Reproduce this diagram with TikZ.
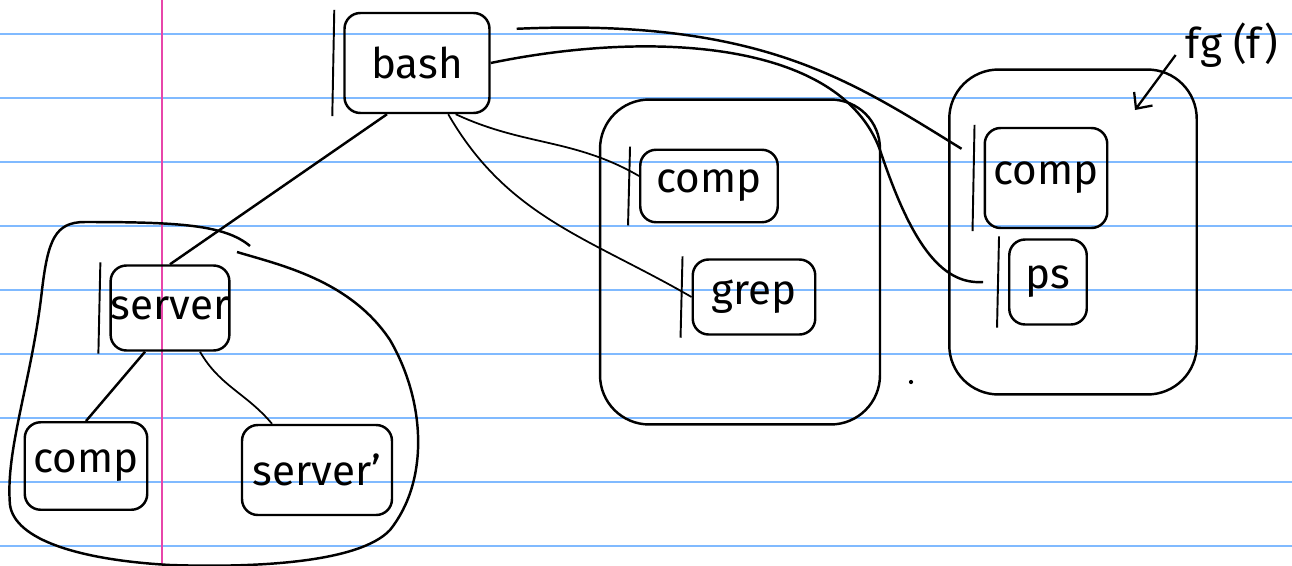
\documentclass[tikz,border=0pt]{standalone}
\usepackage{fontspec}
\setmainfont{Fira Sans}
\usetikzlibrary{arrows.meta, positioning}
\definecolor{ruleblue}{RGB}{128,186,255}
\definecolor{marginpink}{RGB}{232,70,170}

\begin{document}
\begin{tikzpicture}[x=0.02cm, y=-0.02cm,
  proc/.style={rectangle,draw,line width=1.4pt,rounded corners=9pt,align=center,inner sep=0pt,font=\fontsize{24}{26}\selectfont},
  grp/.style={rectangle,draw,line width=1.4pt,rounded corners=28pt},
  tick/.style={line width=1.1pt},
  wire/.style={line width=1.4pt},
  lwire/.style={line width=1pt},
  arr/.style={-{Straight Barb[length=7pt,width=13pt]},line width=1.3pt}
]
  \useasboundingbox[fill=white] (0,0) rectangle (1292,565);
  \foreach \y in {34,98,...,546} \draw[ruleblue,line width=1.1pt] (0,\y) -- (1292,\y);
  \draw[marginpink,line width=1.1pt] (162,0) -- (162,565);

  \node[grp,minimum width=5.6cm,minimum height=6.5cm] (mid) at (740,262) {};
  \node[grp,minimum width=4.95cm,minimum height=6.5cm] (right) at (1073,232) {};
  \draw[wire] (250,246) .. controls (225,225) and (180,222) .. (85,222)
    .. controls (55,222) and (48,240) .. (42,290)
    .. controls (32,380) and (5,450) .. (10,505)
    .. controls (15,540) and (80,560) .. (170,565)
    .. controls (260,568) and (360,562) .. (390,530)
    .. controls (430,480) and (425,400) .. (390,340)
    .. controls (350,280) and (280,265) .. (237,252);

  \node[proc,minimum width=2.9cm,minimum height=2cm] (bash) at (417,63) {bash};
  \node[proc,minimum width=2.3cm,minimum height=1.7cm] (server) at (170,308) {server};
  \node[proc,minimum width=2.45cm,minimum height=1.75cm] (comp1) at (86,466) {comp};
  \node[proc,minimum width=3cm,minimum height=1.8cm] (server2) at (317,470) {server'};
  \node[proc,minimum width=2.75cm,minimum height=1.45cm] (comp2) at (709,186) {comp};
  \node[proc,minimum width=2.45cm,minimum height=1.5cm] (grep) at (754,297) {grep};
  \node[proc,minimum width=2.45cm,minimum height=2cm] (comp3) at (1046,178) {comp};
  \node[proc,minimum width=1.55cm,minimum height=1.7cm] (ps) at (1048,282) {ps};
  \node[font=\fontsize{24}{26}\selectfont,inner sep=0pt] (fg) at (1232,45) {fg (f)};
  \coordinate (fgtip) at (1135,110);

  \foreach \n in {bash,server,comp2,grep,comp3,ps}
    \draw[tick] ([shift={(-9,-2)}]\n.north west) -- ([shift={(-11,2)}]\n.south west);

  \draw[wire] ([xshift=-0.6cm]bash.south) -- (server.north);
  \draw[wire] ([xshift=-0.5cm]server.south) -- (comp1.north);
  \draw[lwire] ([xshift=0.6cm]server.south) to[out=-60,in=130] ([xshift=-0.9cm]server2.north);
  \draw[lwire] ([xshift=-0.7cm]bash.south east) to[out=-25,in=150] ([yshift=0.2cm]comp2.west);
  \draw[lwire] ([xshift=-0.85cm]bash.south east) to[out=-60,in=150] (grep.west);
  \draw[wire] ([shift={(26,17)}]bash.north east) .. controls (760,18) and (850,80) .. ([shift={(-22,22)}]comp3.north west);
  \draw[wire] (bash.east) .. controls (650,30) and (840,40) .. (880,150)
    .. controls (910,240) and (940,285) .. ([xshift=-0.5cm]ps.west);
  \draw[arr] ([shift={(-10,10)}]fg.west) -- (fgtip);
  \fill (911,382) circle (1.2pt);
\end{tikzpicture}
\end{document}
